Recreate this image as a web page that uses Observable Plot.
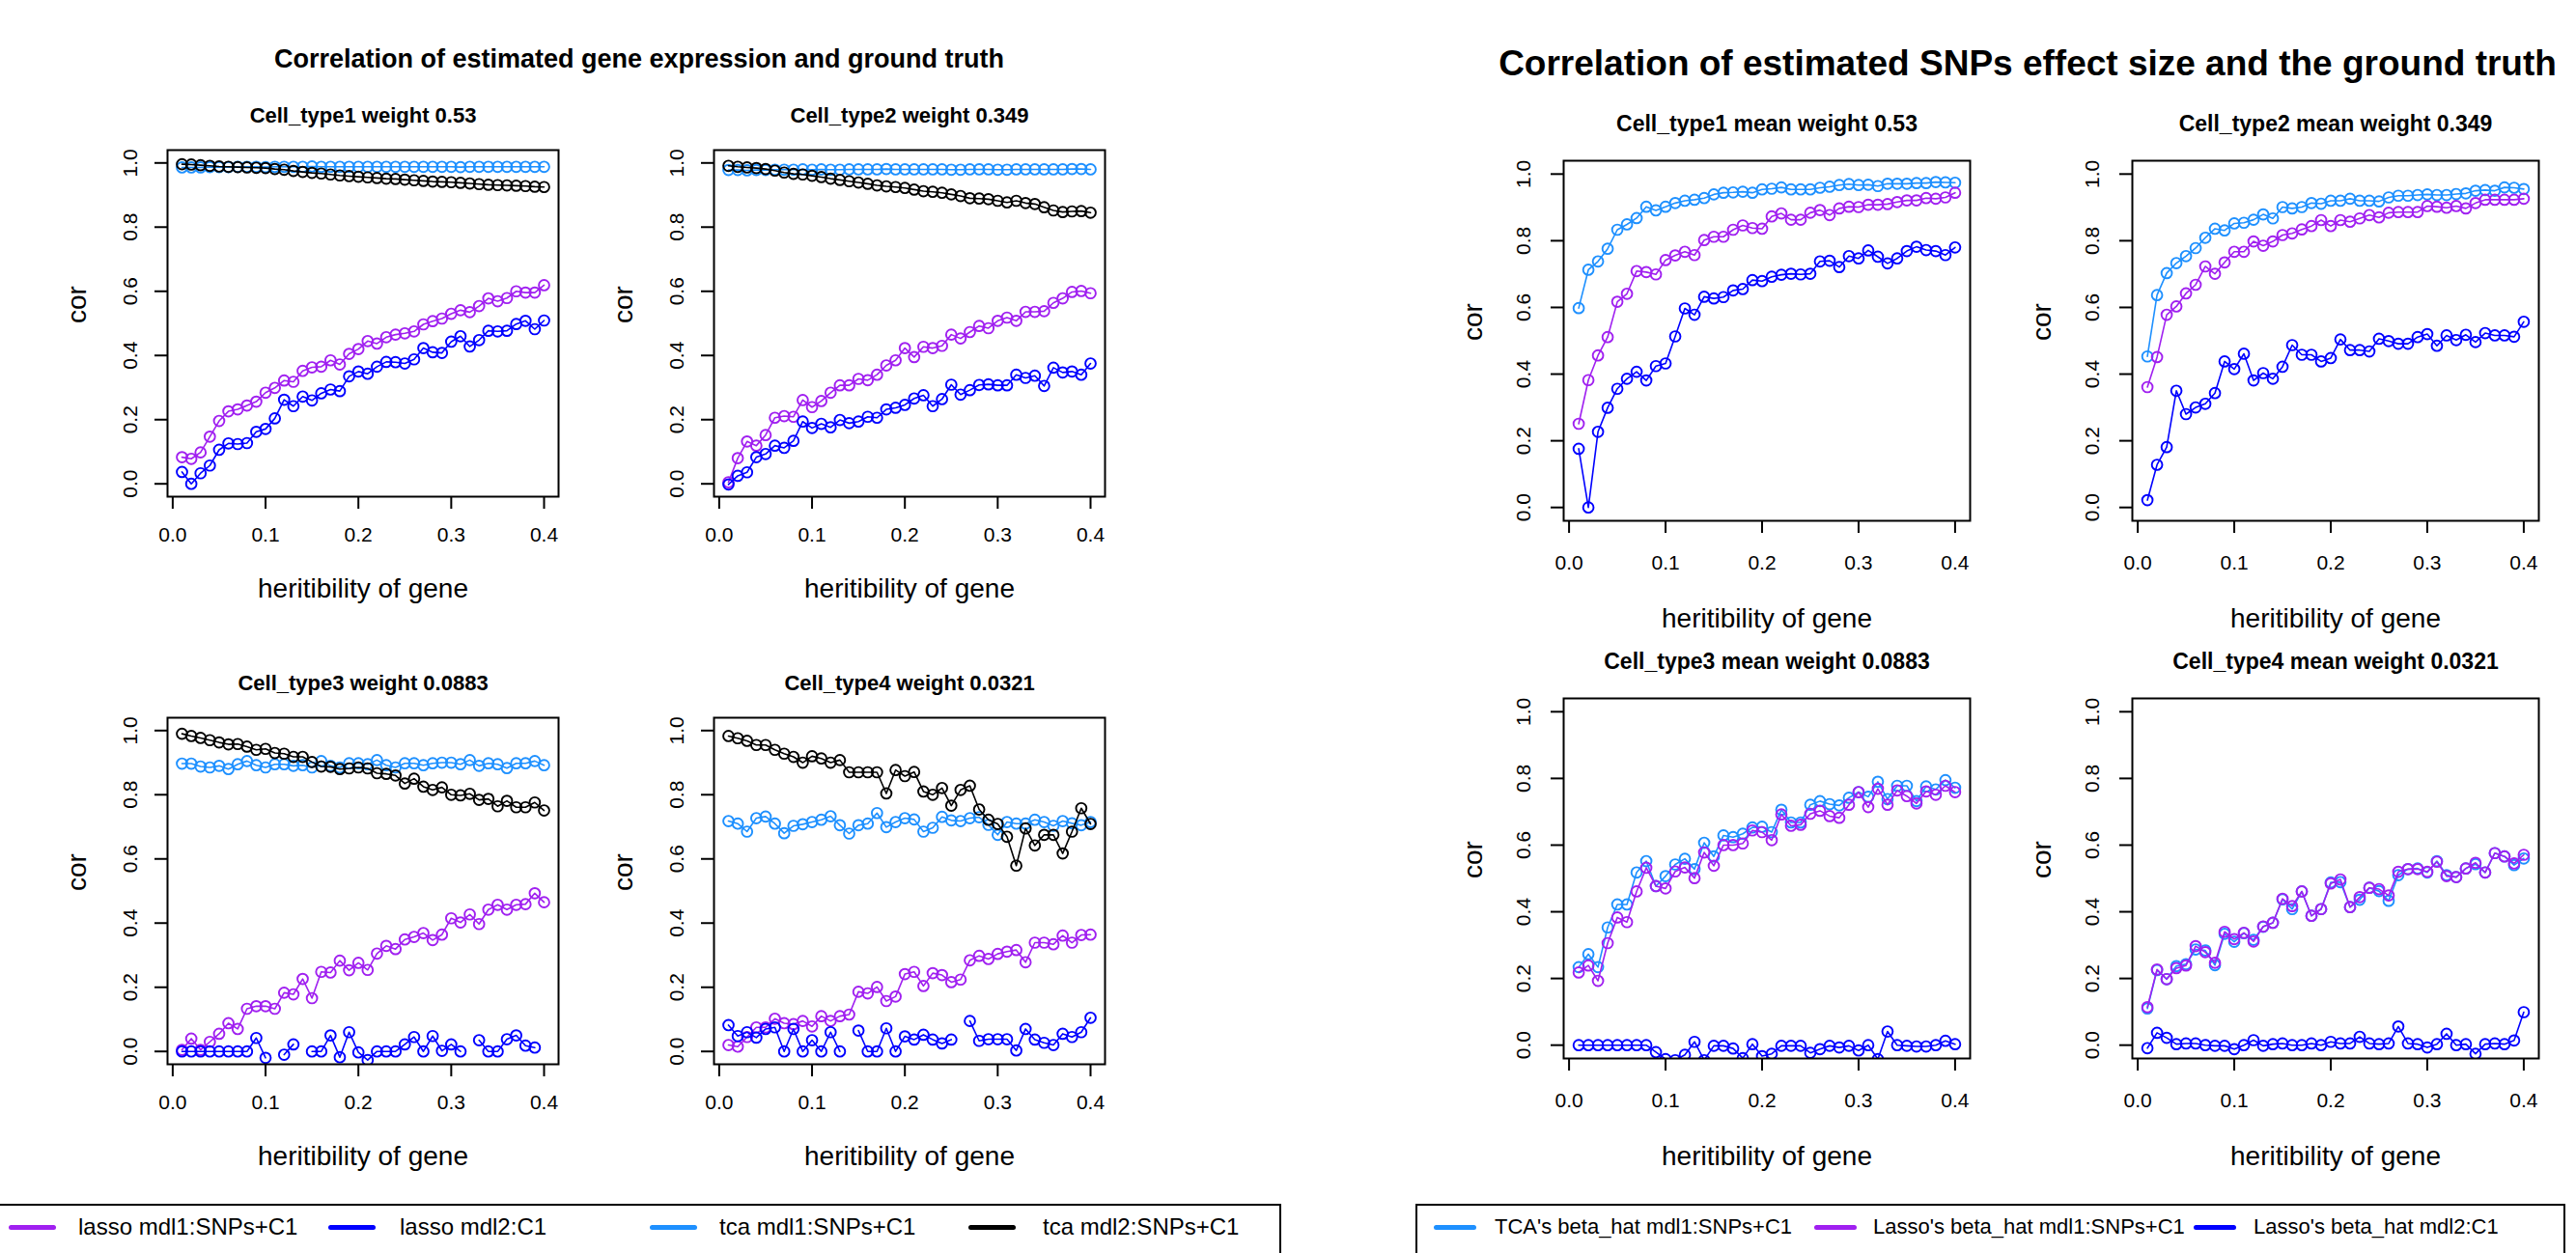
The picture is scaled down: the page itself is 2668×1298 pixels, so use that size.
<!DOCTYPE html>
<html><head><meta charset="utf-8">
<script src="https://cdn.jsdelivr.net/npm/d3@7"></script>
<script src="https://cdn.jsdelivr.net/npm/@observablehq/plot@0.6"></script>
<style>
html,body{margin:0;padding:0;background:#fff;}
body{width:2668px;height:1298px;position:relative;overflow:hidden;font-family:"Liberation Sans",Arial,Helvetica,sans-serif;color:#000;}
.sectitle{position:absolute;text-align:center;font-weight:bold;white-space:nowrap;}
.legend{position:absolute;border:2px solid #000;box-sizing:border-box;background:#fff;}
.item{position:absolute;white-space:nowrap;}
.sw{position:absolute;height:5px;border-radius:2.5px;}
</style></head><body>
<script>
// ---------------- data ----------------
const heritability = [0.01,0.02,0.03,0.04,0.05,0.06,0.07,0.08,0.09,0.10,0.11,0.12,0.13,0.14,0.15,0.16,0.17,0.18,0.19,0.20,0.21,0.22,0.23,0.24,0.25,0.26,0.27,0.28,0.29,0.30,0.31,0.32,0.33,0.34,0.35,0.36,0.37,0.38,0.39,0.40];
const xTicks = [0, 0.1, 0.2, 0.3, 0.4];
const yTicks = [0, 0.2, 0.4, 0.6, 0.8, 1.0];

// Left: correlation of estimated gene expression and ground truth
const exprCT1_lassoMdl1 = [0.083,0.078,0.098,0.147,0.196,0.226,0.232,0.244,0.256,0.284,0.299,0.322,0.318,0.352,0.363,0.365,0.385,0.372,0.405,0.420,0.445,0.437,0.457,0.465,0.469,0.475,0.497,0.507,0.515,0.530,0.541,0.535,0.554,0.578,0.569,0.579,0.600,0.596,0.596,0.619];
const exprCT1_lassoMdl2 = [0.037,0.000,0.033,0.057,0.106,0.126,0.124,0.127,0.162,0.171,0.204,0.262,0.242,0.272,0.260,0.282,0.294,0.289,0.335,0.350,0.343,0.365,0.380,0.379,0.375,0.388,0.423,0.410,0.408,0.443,0.460,0.428,0.448,0.477,0.475,0.477,0.498,0.508,0.482,0.509];
const exprCT1_tcaMdl1 = [0.986,0.986,0.986,0.987,0.987,0.987,0.988,0.988,0.988,0.987,0.988,0.988,0.988,0.988,0.989,0.988,0.988,0.988,0.988,0.988,0.988,0.988,0.988,0.988,0.988,0.988,0.988,0.988,0.988,0.988,0.987,0.988,0.988,0.988,0.988,0.988,0.988,0.988,0.988,0.988];
const exprCT1_tcaMdl2 = [0.996,0.995,0.993,0.991,0.989,0.988,0.987,0.986,0.985,0.984,0.981,0.979,0.975,0.972,0.969,0.967,0.964,0.961,0.959,0.957,0.955,0.953,0.951,0.950,0.948,0.946,0.944,0.942,0.941,0.940,0.938,0.936,0.934,0.932,0.931,0.930,0.929,0.928,0.926,0.925];

const exprCT2_lassoMdl1 = [0.005,0.080,0.132,0.119,0.152,0.206,0.211,0.209,0.261,0.239,0.258,0.284,0.307,0.307,0.327,0.323,0.340,0.369,0.385,0.423,0.395,0.427,0.423,0.430,0.465,0.453,0.473,0.492,0.485,0.508,0.518,0.508,0.536,0.536,0.538,0.564,0.578,0.598,0.601,0.594];
const exprCT2_lassoMdl2 = [-0.002,0.025,0.036,0.083,0.093,0.119,0.112,0.134,0.194,0.174,0.187,0.176,0.199,0.189,0.194,0.209,0.206,0.232,0.237,0.246,0.266,0.276,0.242,0.264,0.309,0.278,0.292,0.308,0.310,0.307,0.307,0.340,0.330,0.337,0.305,0.362,0.347,0.350,0.340,0.375];
const exprCT2_tcaMdl1 = [0.978,0.978,0.977,0.978,0.978,0.979,0.979,0.979,0.980,0.979,0.980,0.979,0.979,0.980,0.980,0.980,0.980,0.981,0.980,0.980,0.980,0.980,0.980,0.980,0.979,0.979,0.980,0.980,0.980,0.979,0.979,0.980,0.980,0.980,0.980,0.980,0.980,0.981,0.981,0.980];
const exprCT2_tcaMdl2 = [0.991,0.988,0.986,0.984,0.981,0.976,0.970,0.966,0.964,0.960,0.956,0.951,0.947,0.943,0.939,0.935,0.930,0.927,0.925,0.922,0.917,0.912,0.910,0.907,0.902,0.897,0.890,0.889,0.887,0.882,0.877,0.882,0.875,0.872,0.862,0.852,0.847,0.849,0.850,0.845];

const exprCT3_lassoMdl1 = [0.005,0.040,0.005,0.030,0.055,0.088,0.070,0.133,0.141,0.141,0.133,0.183,0.178,0.226,0.166,0.248,0.246,0.283,0.253,0.276,0.254,0.305,0.329,0.319,0.349,0.357,0.369,0.347,0.364,0.415,0.402,0.427,0.397,0.442,0.457,0.442,0.457,0.459,0.493,0.465];
const exprCT3_lassoMdl2 = [0,0,0,0,0,0,0,0,0.042,-0.020,null,-0.010,0.022,null,0,0,0.050,-0.018,0.060,-0.003,-0.027,0,0,0,0.022,0.045,0,0.048,0.002,0.022,0,null,0.035,0,0,0.038,0.050,0.018,0.012,null];
const exprCT3_tcaMdl1 = [0.897,0.897,0.888,0.885,0.890,0.880,0.895,0.905,0.892,0.885,0.895,0.895,0.890,0.892,0.885,0.905,0.890,0.885,0.898,0.898,0.895,0.908,0.892,0.885,0.898,0.898,0.892,0.898,0.900,0.900,0.895,0.908,0.890,0.898,0.895,0.883,0.898,0.898,0.905,0.892];
const exprCT3_tcaMdl2 = [0.990,0.983,0.977,0.970,0.963,0.957,0.958,0.950,0.940,0.943,0.930,0.928,0.918,0.918,0.902,0.888,0.887,0.880,0.882,0.885,0.882,0.867,0.865,0.860,0.835,0.850,0.825,0.815,0.823,0.800,0.798,0.803,0.784,0.787,0.764,0.781,0.761,0.761,0.776,0.751];

const exprCT4_lassoMdl1 = [0.020,0.015,0.045,0.075,0.075,0.102,0.088,0.085,0.095,0.078,0.110,0.095,0.110,0.115,0.186,0.181,0.201,0.157,0.171,0.241,0.248,0.204,0.244,0.238,0.216,0.224,0.284,0.298,0.288,0.304,0.311,0.316,0.278,0.339,0.339,0.334,0.361,0.339,0.363,0.364];
const exprCT4_lassoMdl2 = [0.082,0.048,0.060,0.043,0.070,0.075,0,0.070,0,0.035,0,0.060,0,null,0.065,0,0,0.072,0,0.047,0.037,0.052,0.037,0.025,0.037,null,0.095,0.033,0.038,0.038,0.038,0.003,0.070,0.037,0.027,0.020,0.055,0.045,0.060,0.105];
const exprCT4_tcaMdl1 = [0.718,0.710,0.685,0.727,0.732,0.710,0.680,0.703,0.708,0.715,0.722,0.733,0.705,0.679,0.705,0.710,0.743,0.699,0.715,0.727,0.723,0.685,0.697,0.731,0.720,0.718,0.727,0.730,0.706,0.675,0.715,0.710,0.710,0.722,0.715,0.703,0.718,0.711,0.705,0.715];
const exprCT4_tcaMdl2 = [0.983,0.976,0.968,0.955,0.955,0.940,0.928,0.918,0.900,0.920,0.913,0.900,0.908,0.870,0.870,0.870,0.870,0.804,0.877,0.858,0.871,0.810,0.800,0.821,0.766,0.815,0.828,0.754,0.722,0.709,0.669,0.579,0.695,0.642,0.675,0.675,0.617,0.685,0.758,0.709];

// Right: correlation of estimated SNPs effect size and the ground truth
const snpCT1_tcaMdl1 = [0.598,0.713,0.738,0.776,0.833,0.849,0.868,0.902,0.891,0.902,0.913,0.920,0.923,0.928,0.939,0.944,0.945,0.947,0.944,0.954,0.956,0.960,0.954,0.954,0.954,0.959,0.962,0.967,0.970,0.967,0.968,0.964,0.971,0.971,0.971,0.973,0.973,0.976,0.975,0.974];
const snpCT1_lassoMdl1 = [0.251,0.382,0.456,0.511,0.617,0.641,0.709,0.706,0.699,0.742,0.756,0.767,0.757,0.802,0.812,0.812,0.833,0.846,0.838,0.836,0.873,0.882,0.863,0.863,0.884,0.892,0.877,0.897,0.902,0.901,0.908,0.908,0.910,0.916,0.921,0.921,0.928,0.926,0.930,0.944];
const snpCT1_lassoMdl2 = [0.176,0.000,0.227,0.299,0.356,0.386,0.407,0.381,0.424,0.432,0.513,0.597,0.578,0.632,0.627,0.631,0.651,0.655,0.682,0.679,0.692,0.698,0.701,0.699,0.701,0.738,0.740,0.721,0.754,0.747,0.771,0.752,0.732,0.747,0.769,0.782,0.772,0.769,0.757,0.780];

const snpCT2_tcaMdl1 = [0.453,0.637,0.703,0.733,0.754,0.778,0.809,0.836,0.831,0.852,0.854,0.863,0.879,0.867,0.901,0.897,0.901,0.913,0.911,0.920,0.920,0.926,0.920,0.920,0.918,0.930,0.935,0.935,0.937,0.939,0.937,0.937,0.940,0.942,0.950,0.952,0.950,0.960,0.959,0.955];
const snpCT2_lassoMdl1 = [0.361,0.451,0.578,0.603,0.642,0.668,0.723,0.701,0.735,0.767,0.767,0.798,0.785,0.798,0.817,0.822,0.834,0.844,0.862,0.844,0.862,0.857,0.867,0.877,0.870,0.884,0.886,0.886,0.886,0.904,0.902,0.899,0.904,0.897,0.913,0.923,0.923,0.923,0.923,0.926];
const snpCT2_lassoMdl2 = [0.022,0.128,0.181,0.350,0.280,0.300,0.311,0.343,0.438,0.415,0.461,0.381,0.403,0.386,0.422,0.487,0.458,0.458,0.438,0.448,0.504,0.472,0.472,0.468,0.506,0.499,0.491,0.491,0.511,0.520,0.485,0.516,0.502,0.518,0.496,0.523,0.516,0.516,0.512,0.557];

const snpCT3_tcaMdl1 = [0.234,0.273,0.234,0.353,0.422,0.422,0.518,0.552,0.477,0.507,0.542,0.559,0.528,0.607,0.566,0.629,0.624,0.634,0.653,0.655,0.639,0.706,0.668,0.668,0.721,0.732,0.723,0.719,0.742,0.759,0.745,0.790,0.738,0.778,0.778,0.732,0.776,0.767,0.795,0.772];
const snpCT3_lassoMdl1 = [0.218,0.239,0.193,0.306,0.383,0.369,0.461,0.532,0.477,0.470,0.521,0.533,0.501,0.578,0.538,0.600,0.600,0.605,0.644,0.639,0.615,0.692,0.658,0.661,0.694,0.703,0.687,0.682,0.721,0.759,0.714,0.769,0.721,0.764,0.747,0.725,0.761,0.751,0.778,0.759];
const snpCT3_lassoMdl2 = [0,0,0,0,0,0,0,0,-0.021,-0.042,-0.045,-0.029,0.010,-0.045,-0.002,-0.002,-0.010,-0.039,0.003,-0.033,-0.026,-0.002,-0.002,-0.002,-0.023,-0.012,-0.002,-0.007,-0.002,-0.016,0,-0.042,0.041,0,-0.002,-0.004,-0.004,0,0.013,0.003];

const snpCT4_tcaMdl1 = [0.110,0.225,0.198,0.237,0.243,0.287,0.284,0.240,0.334,0.310,0.336,0.316,0.355,0.367,0.437,0.408,0.461,0.388,0.408,0.488,0.489,0.414,0.436,0.472,0.462,0.433,0.510,0.528,0.530,0.518,0.552,0.510,0.504,0.530,0.543,0.518,0.576,0.566,0.540,0.560];
const snpCT4_lassoMdl1 = [0.114,0.227,0.198,0.231,0.239,0.297,0.279,0.247,0.340,0.318,0.337,0.311,0.356,0.367,0.439,0.417,0.461,0.388,0.408,0.485,0.497,0.414,0.444,0.472,0.468,0.449,0.520,0.528,0.528,0.520,0.550,0.507,0.504,0.530,0.547,0.518,0.576,0.566,0.545,0.571];
const snpCT4_lassoMdl2 = [-0.009,0.037,0.022,0.003,0.005,0.005,0,-0.002,-0.002,-0.012,0,0.015,-0.002,0.003,0.005,0,0,0.005,0,0.010,0.005,0.005,0.025,0.005,0.003,0.005,0.056,0.005,0.003,-0.007,0.003,0.034,0,0.003,-0.026,0.003,0.005,0.003,0.014,0.099];

const leftTitles = ["Cell_type1 weight 0.53","Cell_type2 weight 0.349","Cell_type3 weight 0.0883","Cell_type4 weight 0.0321"];
const rightTitles = ["Cell_type1 mean weight 0.53","Cell_type2 mean weight 0.349","Cell_type3 mean weight 0.0883","Cell_type4 mean weight 0.0321"];
const leftLegendLabels = ["lasso mdl1:SNPs+C1","lasso mdl2:C1","tca mdl1:SNPs+C1","tca mdl2:SNPs+C1"];
const rightLegendLabels = ["TCA's beta_hat mdl1:SNPs+C1","Lasso's beta_hat mdl1:SNPs+C1","Lasso's beta_hat mdl2:C1"];
const leftSectionTitle = "Correlation of estimated gene expression and ground truth";
const rightSectionTitle = "Correlation of estimated SNPs effect size and the ground truth";

// ---------------- styling / layout ----------------
const COLORS = {lasso1: "#A020F0", lasso2: "#0000FF", tca1: "#1E90FF", tca2: "#000000"};
const FONT = '"Liberation Sans", Arial, Helvetica, sans-serif';
const xDomain = [-0.0056, 0.4156];
const yDomain = [-0.04, 1.04];

const G_LEFT = {bw: 405, bh: 359, mL: 130, mR: 30, mT: 60, mB: 125, ytick: 38, xtick: 40, xlab: 96, tdy: 36, tfs: 22};
const G_RIGHT = {bw: 421, bh: 373, mL: 130, mR: 30, mT: 60, mB: 130, ytick: 41, xtick: 44, xlab: 102, tdy: 38, tfs: 23};

const panels = [
  {title: leftTitles[0], left: 173, top: 155, g: G_LEFT, series: [["lasso1", exprCT1_lassoMdl1], ["lasso2", exprCT1_lassoMdl2], ["tca1", exprCT1_tcaMdl1], ["tca2", exprCT1_tcaMdl2]]},
  {title: leftTitles[1], left: 739, top: 155, g: G_LEFT, series: [["lasso1", exprCT2_lassoMdl1], ["lasso2", exprCT2_lassoMdl2], ["tca1", exprCT2_tcaMdl1], ["tca2", exprCT2_tcaMdl2]]},
  {title: leftTitles[2], left: 173, top: 743, g: G_LEFT, series: [["lasso1", exprCT3_lassoMdl1], ["lasso2", exprCT3_lassoMdl2], ["tca1", exprCT3_tcaMdl1], ["tca2", exprCT3_tcaMdl2]]},
  {title: leftTitles[3], left: 739, top: 743, g: G_LEFT, series: [["lasso1", exprCT4_lassoMdl1], ["lasso2", exprCT4_lassoMdl2], ["tca1", exprCT4_tcaMdl1], ["tca2", exprCT4_tcaMdl2]]},
  {title: rightTitles[0], left: 1619, top: 166, g: G_RIGHT, series: [["tca1", snpCT1_tcaMdl1], ["lasso1", snpCT1_lassoMdl1], ["lasso2", snpCT1_lassoMdl2]]},
  {title: rightTitles[1], left: 2208, top: 166, g: G_RIGHT, series: [["tca1", snpCT2_tcaMdl1], ["lasso1", snpCT2_lassoMdl1], ["lasso2", snpCT2_lassoMdl2]]},
  {title: rightTitles[2], left: 1619, top: 723, g: G_RIGHT, series: [["tca1", snpCT3_tcaMdl1], ["lasso1", snpCT3_lassoMdl1], ["lasso2", snpCT3_lassoMdl2]]},
  {title: rightTitles[3], left: 2208, top: 723, g: G_RIGHT, series: [["tca1", snpCT4_tcaMdl1], ["lasso1", snpCT4_lassoMdl1], ["lasso2", snpCT4_lassoMdl2]]}
];

function makePanel(p) {
  const g = p.g;
  const marks = [];
  for (const [key, values] of p.series) {
    const rows = heritability.map((h, i) => ({h, v: values[i] == null ? NaN : values[i]}));
    marks.push(Plot.line(rows, {x: "h", y: "v", stroke: COLORS[key], strokeWidth: 1.6, clip: true}));
    marks.push(Plot.dot(rows, {x: "h", y: "v", r: 5.4, stroke: COLORS[key], strokeWidth: 1.9, fill: "none", clip: true}));
  }
  const svg = Plot.plot({
    width: g.mL + g.bw + g.mR, height: g.mT + g.bh + g.mB,
    marginLeft: g.mL, marginRight: g.mR, marginTop: g.mT, marginBottom: g.mB,
    x: {domain: xDomain}, y: {domain: yDomain},
    style: {background: "transparent", overflow: "visible", fontFamily: FONT, color: "#000"},
    marks: [
      Plot.axisX({ticks: xTicks, tickSize: 13, tickFormat: () => "", label: null, strokeWidth: 2}),
      Plot.axisY({ticks: yTicks, tickSize: 13, tickFormat: () => "", label: null, strokeWidth: 2}),
      ...marks,
      Plot.frame({stroke: "#000", strokeWidth: 2}),
      Plot.text(xTicks, {x: d => d, text: d => d.toFixed(1), frameAnchor: "bottom", dy: g.xtick, fontSize: 21, lineAnchor: "middle", fill: "#000"}),
      Plot.text(yTicks, {y: d => d, text: d => d.toFixed(1), frameAnchor: "left", dx: -g.ytick, rotate: -90, fontSize: 21, lineAnchor: "middle", textAnchor: "middle", fill: "#000"}),
      Plot.text(["cor"], {text: d => d, frameAnchor: "left", dx: -93, rotate: -90, fontSize: 28, lineAnchor: "middle", fill: "#000"}),
      Plot.text(["heritibility of gene"], {text: d => d, frameAnchor: "bottom", dy: g.xlab, fontSize: 28, lineAnchor: "middle", fill: "#000"}),
      Plot.text([p.title], {text: d => d, frameAnchor: "top", dy: -g.tdy, fontSize: g.tfs, fontWeight: "bold", lineAnchor: "middle", fill: "#000"})
    ]
  });
  svg.style.position = "absolute";
  svg.style.left = (p.left - g.mL) + "px";
  svg.style.top = (p.top - g.mT) + "px";
  svg.style.maxWidth = "none";
  document.body.appendChild(svg);
}
panels.forEach(makePanel);

// section titles
function sectionTitle(text, cx, cy, fs) {
  const d = document.createElement("div");
  d.className = "sectitle";
  d.textContent = text;
  d.style.fontSize = fs + "px";
  d.style.lineHeight = fs + "px";
  d.style.width = "1400px";
  d.style.left = (cx - 700) + "px";
  d.style.top = (cy - fs / 2) + "px";
  document.body.appendChild(d);
}
sectionTitle(leftSectionTitle, 662, 61, 27);
sectionTitle(rightSectionTitle, 2100, 65, 37);

// legends
function legend(box, items, fs, cy) {
  const b = document.createElement("div");
  b.className = "legend";
  Object.assign(b.style, {left: box[0] + "px", top: box[1] + "px", width: box[2] + "px", height: "120px"});
  document.body.appendChild(b);
  for (const it of items) {
    const s = document.createElement("div");
    s.className = "sw";
    Object.assign(s.style, {left: it.sx + "px", width: it.sw + "px", top: (cy - 2.5) + "px", background: it.color});
    document.body.appendChild(s);
    const t = document.createElement("div");
    t.className = "item";
    t.textContent = it.label;
    Object.assign(t.style, {left: it.tx + "px", top: (cy - fs / 2) + "px", fontSize: fs + "px", lineHeight: fs + "px"});
    document.body.appendChild(t);
  }
}
legend([-2, 1247, 1329], [
  {label: leftLegendLabels[0], color: COLORS.lasso1, sx: 9, sw: 49, tx: 81},
  {label: leftLegendLabels[1], color: COLORS.lasso2, sx: 340, sw: 49, tx: 414},
  {label: leftLegendLabels[2], color: COLORS.tca1, sx: 673, sw: 49, tx: 745},
  {label: leftLegendLabels[3], color: COLORS.tca2, sx: 1003, sw: 49, tx: 1080}
], 24, 1271);
legend([1466, 1247, 1191], [
  {label: rightLegendLabels[0], color: COLORS.tca1, sx: 1485, sw: 44, tx: 1548},
  {label: rightLegendLabels[1], color: COLORS.lasso1, sx: 1879, sw: 44, tx: 1940},
  {label: rightLegendLabels[2], color: COLORS.lasso2, sx: 2272, sw: 44, tx: 2334}
], 22, 1271);
</script>
</body></html>
